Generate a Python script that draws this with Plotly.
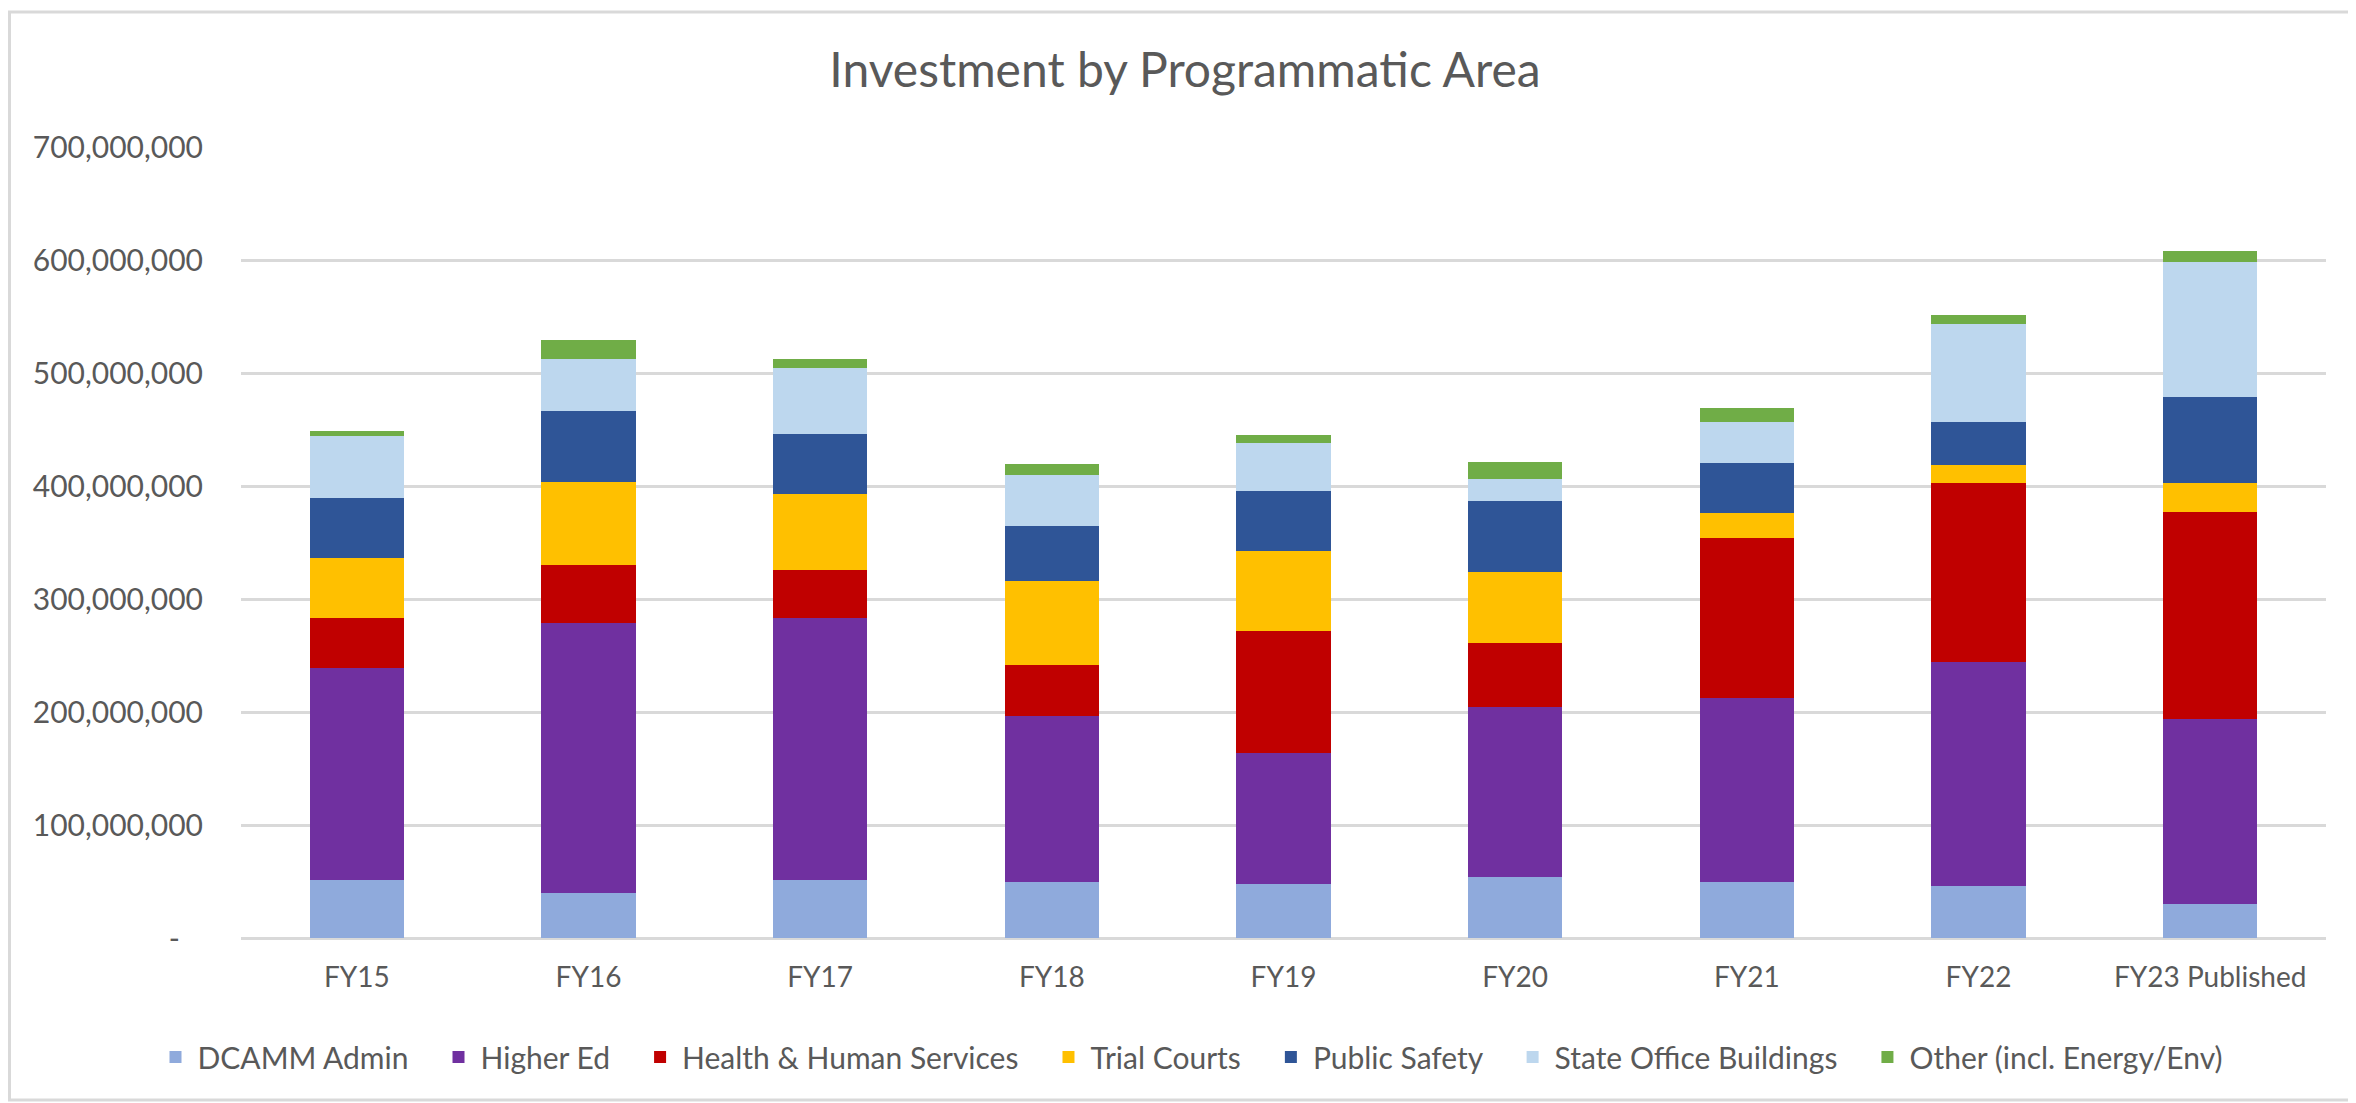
import plotly.graph_objects as go

categories = ["FY15", "FY16", "FY17", "FY18", "FY19", "FY20", "FY21", "FY22", "FY23 Published"]

dcamm_admin = [51e6, 40e6, 51e6, 49.4e6, 48e6, 54e6, 50e6, 45.8e6, 29.7e6]
higher_ed = [188e6, 238.5e6, 232e6, 147.3e6, 116e6, 150e6, 162e6, 198.5e6, 164.1e6]
health_human = [44e6, 52e6, 42.5e6, 45.3e6, 108e6, 56.7e6, 142e6, 158.6e6, 182.8e6]
trial_courts = [53e6, 73e6, 67e6, 73.5e6, 70.5e6, 63e6, 22.5e6, 16.1e6, 26.3e6]
public_safety = [53.5e6, 63e6, 53.5e6, 49e6, 53.5e6, 63e6, 44e6, 37.7e6, 75.9e6]
state_office = [54.5e6, 45.5e6, 58e6, 45e6, 41.7e6, 19.7e6, 36e6, 86.6e6, 119.6e6]
other = [5e6, 17e6, 8e6, 10e6, 7e6, 14.6e6, 12.3e6, 8e6, 9.3e6]

series_names = ["DCAMM Admin", "Higher Ed", "Health & Human Services", "Trial Courts",
                "Public Safety", "State Office Buildings", "Other (incl. Energy/Env)"]
series_values = [dcamm_admin, higher_ed, health_human, trial_courts, public_safety, state_office, other]
colors = ["#8FAADC", "#7030A0", "#C00000", "#FFC000", "#2F5597", "#BDD7EE", "#70AD47"]

y_tickvals = [0, 100e6, 200e6, 300e6, 400e6, 500e6, 600e6, 700e6]
y_ticktext = ["-", "100,000,000", "200,000,000", "300,000,000", "400,000,000",
              "500,000,000", "600,000,000", "700,000,000"]

FONT = "Lato, Open Sans, Liberation Sans, sans-serif"
GRAY = "#595959"
NB = "\u00a0"

# The page body has an 8px default margin; the figure is sized to fill the rest of the window.
OFF = 8
W, H = 2356 - OFF, 1103 - OFF
L, R, T, B = 233, 30, 139, 165
PW, PH = W - L - R, H - T - B

fig = go.Figure()
n = len(series_names)
for i, (name, vals, col) in enumerate(zip(series_names, series_values, colors)):
    legend_label = name + (NB * 3 if i < n - 1 else "")
    fig.add_trace(go.Bar(
        name=legend_label, x=categories, y=vals,
        marker=dict(color=col, line=dict(width=0)),
        hovertemplate=name + ": %{y:,.0f}<extra></extra>",
    ))

ticktext = [y_ticktext[0] + NB * 3] + y_ticktext[1:]

fig.update_layout(
    width=W, height=H,
    barmode="stack", bargap=0.594,
    paper_bgcolor="white", plot_bgcolor="white",
    margin=dict(l=L, r=R, t=T, b=B, autoexpand=False),
    font=dict(family=FONT, color=GRAY, size=30),
    title=dict(text="Investment by Programmatic Area", x=(1185 - OFF) / W, xanchor="center",
               y=1 - (70 - OFF) / H, yanchor="middle",
               font=dict(family=FONT, size=48, color=GRAY)),
    xaxis=dict(showgrid=False, showline=False, ticks="", ticklabelstandoff=20,
               tickfont=dict(size=28, color=GRAY)),
    yaxis=dict(range=[0, 700e6], tickvals=y_tickvals, ticktext=ticktext,
               showgrid=True, gridcolor="#D9D9D9", gridwidth=3,
               zeroline=True, zerolinecolor="#D9D9D9", zerolinewidth=3,
               ticks="", ticklabelstandoff=37, tickfont=dict(size=30, color=GRAY)),
    legend=dict(orientation="h", xref="container", yref="container",
                x=(1191 - OFF) / W, xanchor="center",
                y=1 - (1057 - OFF) / H, yanchor="middle",
                font=dict(size=30, color=GRAY), traceorder="normal",
                itemwidth=34, tracegroupgap=0),
)
fig.add_shape(type="rect", xref="paper", yref="paper",
              x0=(1.5 - L) / PW, x1=(2353 - OFF - L) / PW,
              y0=((H - B) - (1100 - OFF)) / PH, y1=((H - B) - (12 - OFF)) / PH,
              line=dict(color="#D9D9D9", width=3), fillcolor="rgba(0,0,0,0)", layer="below")

fig.write_html("out.html")
